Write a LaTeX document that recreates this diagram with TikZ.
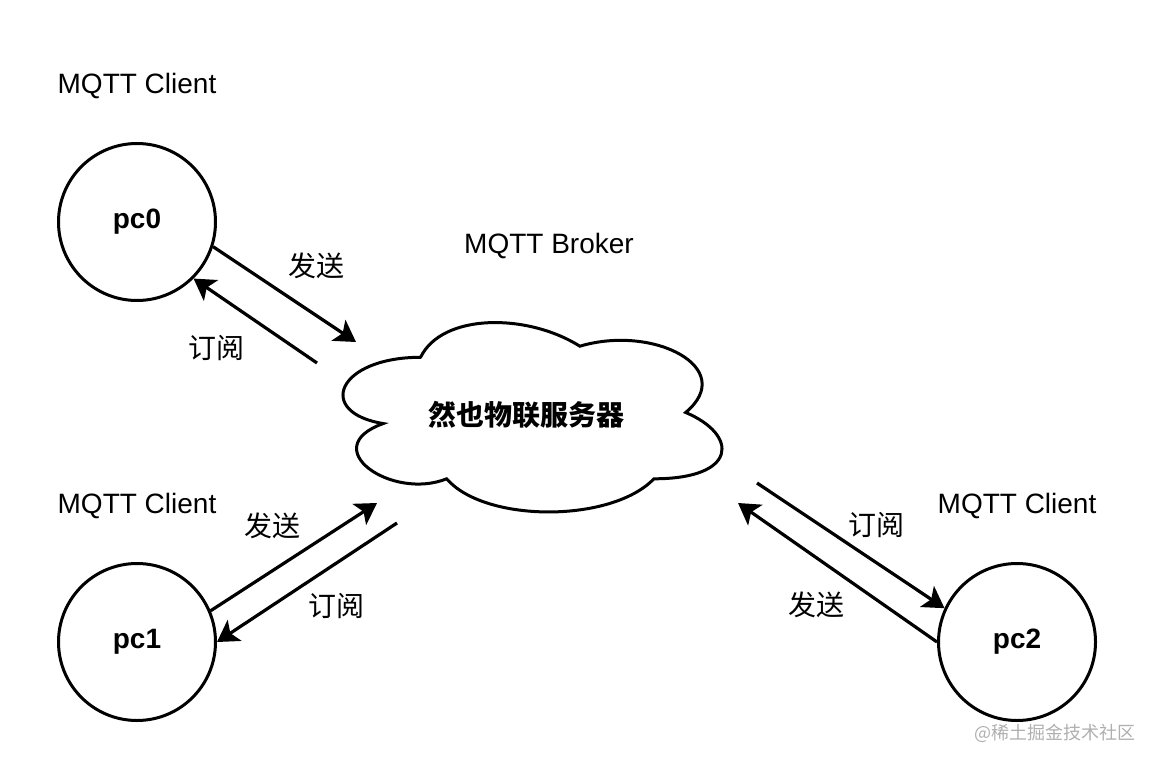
\documentclass[tikz,border=0pt]{standalone}
\usepackage{fontspec}
\setmainfont{Liberation Sans}
\newfontfamily\cjk{Noto Sans CJK SC}
\usetikzlibrary{arrows.meta}
\definecolor{wmgray}{RGB}{175,175,175}
\begin{document}
\begin{tikzpicture}[x=0.5pt, y=-0.5pt,
  client/.style={circle, draw, line width=1.5pt, minimum size=78.5pt, inner sep=0pt,
    font=\fontsize{14}{16}\selectfont\bfseries},
  lbl/.style={font=\fontsize{14}{16}\selectfont},
  cjklbl/.style={font=\fontsize{14}{16}\selectfont\cjk},
  flow/.style={line width=1.6pt, -{Stealth[length=10.5pt, width=12.5pt, inset=2.5pt]}}]
  \useasboundingbox (0,0) rectangle (1154,764);

  % Clients
  \node[client] (pc0) at (137,222) {pc0};
  \node[client] (pc1) at (137,642) {pc1};
  \node[client] (pc2) at (1017,642) {pc2};
  \node[lbl] (c0) at (137,86)  {MQTT Client};
  \node[lbl] (c1) at (137,506) {MQTT Client};
  \node[lbl] (c2) at (1017,506) {MQTT Client};

  % Broker als Wolke
  \begin{scope}[shift={(315.5,302)}, xscale=423, yscale=221]
    \draw[line width=1.5pt] (0.25,0.25)
      .. controls (0.05,0.25) and (0,0.5) .. (0.16,0.55)
      .. controls (0,0.66) and (0.18,0.9) .. (0.31,0.8)
      .. controls (0.4,1) and (0.7,1) .. (0.8,0.8)
      .. controls (1,0.8) and (1,0.6) .. (0.875,0.5)
      .. controls (1,0.3) and (0.8,0.1) .. (0.625,0.2)
      .. controls (0.5,0.05) and (0.3,0.05) .. cycle;
  \end{scope}
  \node[font=\fontsize{14}{16}\selectfont\cjk\bfseries] (broker) at (526,415) {然也物联服务器};
  \node[lbl] (bt) at (549,246) {MQTT Broker};

  % freie Pfeilenden an der Wolke
  \coordinate (s0) at (356,342);
  \coordinate (r0) at (317,363);
  \coordinate (s1) at (377,503);
  \coordinate (r1) at (397,523);
  \coordinate (r2) at (757,483);
  \coordinate (s2) at (738,503);

  % Senden / Abonnieren
  \draw[flow] (pc0.-18) -- (s0);
  \draw[flow] (r0) -- (pc0.-45);
  \draw[flow] (pc1.23) -- (s1);
  \draw[flow] (r1) -- (pc1.0);
  \draw[flow] (r2) -- (pc2.155);
  \draw[flow] (pc2.180) -- (s2);

  \node[cjklbl] (l0s) at (316,266) {发送};
  \node[cjklbl] (l0r) at (216,348) {订阅};
  \node[cjklbl] (l1s) at (272,526) {发送};
  \node[cjklbl] (l1r) at (336,606) {订阅};
  \node[cjklbl] (l2r) at (876,525) {订阅};
  \node[cjklbl] (l2s) at (816,605) {发送};

  % Wasserzeichen
  \node[font=\fontsize{9}{10}\selectfont\cjk, text=wmgray] (wm) at (1055,733) {@稀土掘金技术社区};
\end{tikzpicture}
\end{document}
